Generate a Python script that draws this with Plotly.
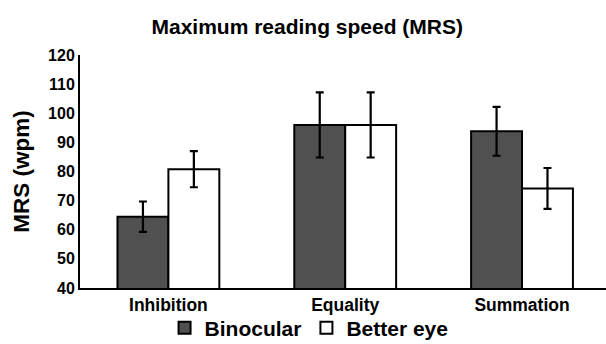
import plotly.graph_objects as go

categories = ["Inhibition", "Equality", "Summation"]
binocular = [64.5, 96.0, 93.8]
binocular_err = [5.2, 11.2, 8.4]
better_eye = [80.8, 96.0, 74.2]
better_eye_err = [6.2, 11.2, 7.0]
y_ticks = [40, 50, 60, 70, 80, 90, 100, 110, 120]

FONT = "Liberation Sans, Arial, sans-serif"

fig = go.Figure()
fig.add_trace(go.Bar(
    name="<b>Binocular</b>", x=categories, y=binocular,
    marker=dict(color="#505050", line=dict(color="black", width=2)),
    error_y=dict(type="data", array=binocular_err, color="black", thickness=2.2, width=4),
))
fig.add_trace(go.Bar(
    name="<b>Better eye</b>", x=categories, y=better_eye,
    marker=dict(color="white", line=dict(color="black", width=2)),
    error_y=dict(type="data", array=better_eye_err, color="black", thickness=2.2, width=4),
))

fig.update_layout(
    width=606, height=344,
    margin=dict(l=80, r=0, t=55, b=56),
    paper_bgcolor="white", plot_bgcolor="white",
    barmode="group", bargap=0.424, bargroupgap=0,
    font=dict(family=FONT, color="black"),
    title=dict(text="<b>Maximum reading speed (MRS)</b>", x=0.507, xanchor="center",
               y=1 - 27 / 344, yanchor="middle", yref="container",
               font=dict(size=21, family=FONT, color="black")),
    legend=dict(orientation="h", xref="container", yref="container",
                x=0.51, xanchor="center", y=1 - 328 / 344, yanchor="middle",
                font=dict(size=21, family=FONT, color="black"),
                bgcolor="rgba(0,0,0,0)", borderwidth=0,
                itemwidth=30, traceorder="normal"),
    showlegend=True,
)
fig.update_xaxes(
    range=[-0.5, 2.475], showline=True, linecolor="black", linewidth=2,
    ticks="", showgrid=False, tickfont=dict(size=17.5, family=FONT), automargin=False,
    tickvals=categories, ticktext=[f"<b>{c}</b>" for c in categories],
)
fig.update_yaxes(
    range=[40, 120], showline=True, linecolor="black", linewidth=2,
    ticks="", showgrid=False, zeroline=False, automargin=False,
    tickvals=y_ticks, ticktext=[f"<b>{t}</b>" for t in y_ticks],
    tickfont=dict(size=16, family=FONT),
    title=dict(text="<b>MRS (wpm)</b>", font=dict(size=22.5, family=FONT), standoff=12),
)

fig.write_html("out.html", config={"displayModeBar": False},
               post_script="document.body.style.margin='0';")
